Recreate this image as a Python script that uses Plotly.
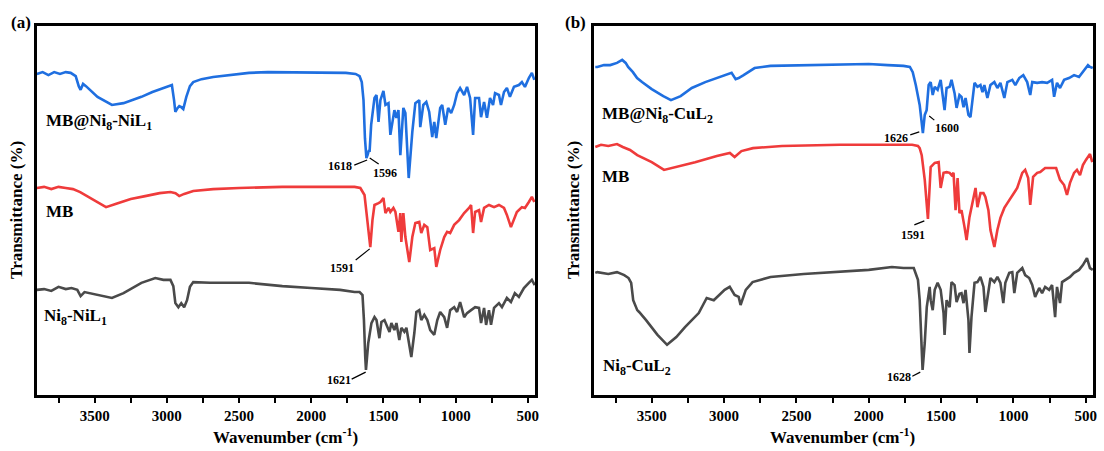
import plotly.graph_objects as go

# ---------------- data (wavenumber cm-1, transmittance a.u. offset-stacked) ----------------
a_blue_wn = [3900, 3860, 3820, 3780, 3740, 3700, 3666, 3631, 3610, 3597, 3580, 3560, 3480, 3420, 3380, 3300, 3240, 3176, 3100, 3060,
             3024, 2990, 2965, 2950, 2941, 2925, 2914, 2900, 2886, 2865, 2840, 2817, 2760, 2679, 2560, 2431, 2300, 2100, 1900, 1760,
             1693, 1665, 1650, 1638, 1628, 1618, 1610, 1600, 1596, 1585, 1562, 1548, 1534, 1521, 1500, 1486, 1465, 1452, 1424, 1410,
             1396, 1383, 1362, 1348, 1325, 1300, 1279, 1252, 1245, 1224, 1203, 1183, 1162, 1148, 1134, 1107, 1093, 1072, 1052, 1031,
             1010, 990, 969, 941, 921, 900, 879, 865, 838, 824, 803, 783, 762, 741, 727, 700, 686, 665, 645, 624,
             596, 562, 541, 520, 493, 472, 455]
a_blue_t = [87.0, 87.5, 86.7, 87.5, 87.0, 87.5, 87.3, 86.4, 83.7, 82.7, 84.3, 83.7, 80.8, 79.4, 78.6, 79.1, 79.9, 80.8, 82.1, 82.7,
            83.2, 83.7, 84.0, 79.9, 76.7, 77.8, 78.3, 78.0, 77.5, 80.8, 83.7, 84.8, 85.6, 86.2, 86.7, 87.3, 87.5, 87.5, 87.5, 87.3,
            87.0, 86.4, 84.8, 79.9, 69.6, 64.2, 65.0, 66.4, 65.9, 73.2, 80.5, 81.3, 74.0, 79.9, 82.4, 78.6, 79.1, 70.5, 77.2, 75.1,
            77.2, 65.0, 77.8, 76.4, 58.8, 71.3, 79.1, 79.9, 72.6, 78.6, 79.4, 76.7, 69.9, 74.0, 69.6, 77.8, 78.6, 73.2, 77.8, 76.4,
            78.6, 81.8, 83.2, 81.3, 83.5, 80.5, 70.5, 80.5, 80.5, 75.3, 79.4, 75.1, 80.5, 78.6, 81.8, 81.3, 78.6, 82.1, 83.2, 80.8,
            83.5, 84.0, 84.8, 83.5, 85.9, 87.3, 85.4]

a_red_wn = [3900, 3850, 3800, 3750, 3700, 3650, 3600, 3520, 3421, 3350, 3250, 3150, 3050, 2975, 2940, 2914, 2880, 2817, 2679, 2500,
            2200, 1900, 1700, 1660, 1631, 1617, 1600, 1591, 1576, 1562, 1534, 1521, 1500, 1486, 1465, 1452, 1431, 1417, 1396, 1383,
            1376, 1362, 1348, 1321, 1300, 1279, 1252, 1238, 1217, 1196, 1176, 1148, 1134, 1107, 1079, 1059, 1038, 1010, 976, 941,
            907, 893, 879, 865, 838, 824, 803, 769, 734, 700, 665, 645, 617, 596, 576, 541, 520, 493, 472, 455]
a_red_t = [56.1, 56.4, 55.8, 56.4, 56.1, 55.8, 55.0, 53.1, 50.9, 51.8, 53.1, 53.9, 54.7, 55.0, 54.7, 53.9, 54.5, 55.3, 55.8, 56.1,
           56.4, 56.4, 56.4, 56.1, 54.2, 49.3, 42.8, 40.1, 47.4, 51.5, 52.0, 52.3, 53.4, 49.3, 50.7, 49.6, 50.7, 49.6, 44.2, 49.3,
           41.5, 49.3, 42.8, 36.0, 42.8, 46.6, 46.9, 43.9, 46.1, 45.5, 39.3, 39.8, 34.7, 39.3, 42.8, 44.2, 43.9, 46.1, 47.4, 49.3,
           50.7, 51.5, 43.9, 49.6, 50.1, 46.9, 50.7, 51.5, 50.9, 51.5, 50.7, 48.8, 45.5, 47.4, 49.6, 50.9, 50.7, 52.3, 53.7, 52.3]

a_black_wn = [3900, 3850, 3800, 3750, 3700, 3660, 3620, 3597, 3570, 3480, 3380, 3300, 3176, 3080, 3024, 2975, 2955, 2941, 2920, 2900,
              2880, 2860, 2840, 2817, 2700, 2431, 2200, 2000, 1800, 1700, 1665, 1645, 1635, 1626, 1621, 1605, 1583, 1562, 1548, 1528,
              1514, 1493, 1479, 1458, 1445, 1424, 1410, 1390, 1376, 1355, 1341, 1321, 1307, 1286, 1272, 1252, 1238, 1217, 1196, 1176,
              1148, 1127, 1107, 1079, 1059, 1038, 1010, 990, 969, 941, 921, 893, 865, 838, 824, 803, 789, 769, 755, 734,
              700, 679, 645, 617, 590, 562, 527, 493, 472, 452]
a_black_t = [28.5, 28.7, 28.2, 29.3, 28.7, 29.0, 28.5, 26.8, 27.9, 27.1, 26.3, 27.6, 30.4, 31.7, 31.2, 31.2, 29.5, 24.9, 23.8, 24.9,
             23.8, 25.7, 29.3, 30.6, 30.4, 30.4, 29.5, 29.0, 28.5, 27.9, 27.9, 27.1, 20.3, 10.3, 6.8, 14.1, 19.5, 21.1, 20.3, 15.4,
             19.8, 20.3, 19.0, 17.1, 19.5, 17.6, 19.5, 14.9, 18.2, 17.1, 18.2, 13.0, 10.3, 16.8, 22.5, 23.0, 20.3, 21.7, 20.3, 17.6,
             16.3, 20.3, 22.5, 21.1, 18.2, 23.0, 23.8, 22.5, 25.2, 21.1, 22.2, 23.0, 23.8, 23.6, 19.5, 23.6, 19.0, 23.0, 19.0, 23.6,
             24.9, 23.8, 26.3, 25.2, 27.6, 26.6, 29.0, 30.4, 31.2, 29.8]

b_blue_wn = [3890, 3876, 3830, 3787, 3740, 3704, 3680, 3663, 3630, 3601, 3567, 3500, 3420, 3367, 3300, 3223, 3130, 3051, 2996, 2948,
             2920, 2899, 2865, 2789, 2679, 2450, 2232, 2000, 1868, 1760, 1716, 1696, 1675, 1648, 1626, 1613, 1600, 1586, 1572, 1558,
             1544, 1524, 1503, 1489, 1476, 1462, 1441, 1428, 1407, 1393, 1373, 1359, 1345, 1331, 1311, 1297, 1283, 1269, 1249, 1228,
             1214, 1201, 1180, 1159, 1132, 1111, 1090, 1063, 1042, 1008, 987, 960, 932, 905, 884, 870, 836, 802, 767, 733,
             719, 699, 678, 650, 616, 581, 547, 513, 485, 471, 452]
b_blue_t = [88.9, 88.9, 89.4, 89.4, 90.0, 90.8, 90.0, 88.9, 87.5, 85.9, 84.8, 82.9, 81.0, 79.9, 81.0, 83.2, 84.8, 85.9, 86.7, 87.3,
            85.6, 85.9, 86.7, 88.6, 89.2, 89.4, 89.7, 89.7, 89.4, 89.2, 88.9, 87.5, 84.0, 78.6, 71.0, 75.9, 77.2, 84.0, 84.8, 81.3,
            83.5, 82.7, 85.4, 81.8, 77.2, 83.2, 83.5, 85.4, 81.8, 77.8, 81.3, 80.8, 78.0, 80.5, 75.9, 75.3, 80.5, 84.6, 83.5, 84.0,
            82.1, 84.0, 80.5, 84.0, 84.8, 83.2, 84.6, 80.5, 84.8, 85.4, 84.0, 85.9, 86.7, 84.8, 81.3, 84.8, 84.6, 84.8, 84.6, 85.4,
            80.8, 84.6, 83.2, 85.4, 85.9, 86.7, 86.2, 88.1, 89.4, 88.9, 88.6]

b_red_wn = [3890, 3850, 3800, 3740, 3700, 3650, 3600, 3500, 3415, 3300, 3200, 3050, 2960, 2927, 2880, 2800, 2600, 2200, 1800, 1700,
            1660, 1648, 1634, 1613, 1591, 1579, 1572, 1544, 1517, 1503, 1483, 1462, 1441, 1428, 1414, 1400, 1386, 1373, 1359, 1338,
            1324, 1304, 1283, 1262, 1249, 1228, 1207, 1194, 1173, 1159, 1132, 1111, 1090, 1063, 1042, 1008, 974, 939, 919, 898,
            884, 864, 836, 815, 781, 747, 705, 678, 650, 630, 609, 581, 561, 540, 520, 499, 471, 455]
b_red_t = [67.2, 67.8, 67.5, 68.0, 67.2, 66.4, 65.0, 63.1, 61.0, 62.1, 63.1, 64.8, 65.6, 64.5, 66.1, 66.9, 67.5, 67.8, 67.8, 67.8,
           67.5, 66.9, 65.0, 58.3, 47.7, 55.6, 61.8, 62.9, 63.1, 56.1, 60.2, 60.4, 60.2, 59.6, 60.2, 50.1, 58.8, 49.3, 50.1, 45.5,
           42.0, 48.2, 52.0, 56.1, 50.9, 54.7, 54.7, 53.7, 50.1, 44.7, 40.1, 44.7, 48.0, 50.7, 52.0, 54.2, 56.1, 60.2, 61.0, 58.8,
           51.5, 59.1, 60.2, 60.4, 61.5, 61.5, 61.5, 58.3, 56.9, 54.2, 57.5, 60.2, 61.0, 59.6, 62.3, 63.7, 65.3, 63.1]

b_black_wn = [3890, 3876, 3800, 3740, 3690, 3660, 3642, 3628, 3600, 3587, 3539, 3460, 3394, 3330, 3270, 3175, 3120, 3071, 2996, 2961,
              2927, 2899, 2886, 2850, 2803, 2679, 2450, 2232, 2000, 1840, 1760, 1689, 1660, 1648, 1640, 1628, 1613, 1599, 1579, 1572,
              1558, 1544, 1524, 1503, 1483, 1476, 1462, 1441, 1428, 1407, 1393, 1373, 1359, 1345, 1331, 1311, 1304, 1290, 1269, 1249,
              1228, 1207, 1194, 1173, 1159, 1132, 1111, 1090, 1070, 1056, 1029, 1008, 994, 974, 939, 919, 891, 870, 850, 822,
              802, 781, 753, 733, 712, 699, 678, 664, 643, 609, 581, 547, 520, 492, 471, 452]
b_black_t = [33.1, 33.3, 32.8, 33.3, 32.5, 31.7, 30.4, 25.7, 23.0, 22.5, 20.3, 16.3, 13.6, 15.7, 18.4, 22.2, 26.3, 25.7, 28.5, 29.3,
             27.1, 26.6, 24.4, 28.5, 30.6, 32.0, 32.8, 33.3, 33.9, 34.7, 34.4, 34.4, 31.2, 25.7, 15.7, 6.8, 14.1, 23.8, 29.3, 25.7,
             23.0, 28.5, 30.4, 28.5, 22.2, 16.3, 25.7, 23.8, 30.6, 29.8, 25.2, 27.4, 27.6, 24.9, 28.5, 20.3, 11.4, 21.1, 30.4, 30.6,
             32.0, 29.3, 22.5, 28.5, 31.7, 30.6, 32.0, 30.4, 24.9, 30.4, 33.1, 33.3, 27.6, 33.1, 34.4, 32.5, 31.7, 29.8, 26.6, 29.0,
             27.6, 29.3, 28.5, 29.8, 21.1, 29.3, 24.9, 30.6, 31.2, 32.0, 33.1, 33.9, 35.2, 37.1, 34.4, 33.9]

series_names = ["MB@Ni8-NiL1", "MB", "Ni8-NiL1", "MB@Ni8-CuL2", "MB", "Ni8-CuL2"]
tick_vals = [3750, 3500, 3250, 3000, 2750, 2500, 2250, 2000, 1750, 1500, 1250, 1000, 750, 500]
tick_text = ["", "3500", "", "3000", "", "2500", "", "2000", "", "1500", "", "1000", "", "500"]

# peak labels: (panel, text, text_wn, text_t, line_wn0, line_t0, line_wn1, line_t1)
peak_labels = [
    ("a", "1618", 1802, 62.1, 1702, 62.3, 1613, 63.7),
    ("a", "1596", 1492, 60.2, 1595, 64.2, 1533, 62.6),
    ("a", "1591", 1789, 34.4, 1692, 36.6, 1595, 39.6),
    ("a", "1621", 1809, 4.1, 1720, 4.3, 1623, 6.2),
    ("b", "1626", 1809, 69.6, 1713, 70.5, 1651, 71.3),
    ("b", "1600", 1457, 72.4, 1582, 75.6, 1547, 74.5),
    ("b", "1591", 1692, 43.4, 1685, 46.1, 1616, 47.2),
    ("b", "1628", 1789, 4.9, 1699, 5.1, 1644, 6.2),
]

# ---------------- figure ----------------
W, H = 1104, 451
FONT = "Liberation Serif, Times New Roman, serif"
BLUE, RED, GREY = "#1f6fe0", "#ef3b3b", "#4a4a4a"

fig = go.Figure()
curves = [
    (a_blue_wn, a_blue_t, BLUE, "x", "y", series_names[0]),
    (a_red_wn, a_red_t, RED, "x", "y", series_names[1]),
    (a_black_wn, a_black_t, GREY, "x", "y", series_names[2]),
    (b_blue_wn, b_blue_t, BLUE, "x2", "y2", series_names[3]),
    (b_red_wn, b_red_t, RED, "x2", "y2", series_names[4]),
    (b_black_wn, b_black_t, GREY, "x2", "y2", series_names[5]),
]
for wn, t, col, xa, ya, nm in curves:
    fig.add_trace(go.Scatter(x=wn, y=t, mode="lines", name=nm, xaxis=xa, yaxis=ya,
                             line=dict(color=col, width=2.6), showlegend=False))

def px_x(p):
    return p / W

def px_y(p):
    return (H - p) / H

xdom_a = [px_x(37), px_x(537)]
xdom_b = [px_x(596), px_x(1097)]
ydom = [px_y(395), px_y(26)]

xcommon = dict(range=[3900, 450], showline=True, linewidth=2.5, linecolor="black", mirror=True,
               ticks="outside", ticklen=5, tickwidth=2, tickcolor="black",
               tickvals=tick_vals, ticktext=tick_text, showgrid=False, zeroline=False,
               tickfont=dict(family=FONT, size=15, color="black", weight="bold"))
ycommon = dict(range=[0, 100], showline=True, linewidth=2.5, linecolor="black", mirror=True,
               ticks="", showticklabels=False, showgrid=False, zeroline=False)

fig.update_layout(
    width=W, height=H, margin=dict(l=0, r=0, t=0, b=0),
    paper_bgcolor="white", plot_bgcolor="white",
    xaxis=dict(domain=xdom_a, anchor="y", **xcommon),
    yaxis=dict(domain=ydom, anchor="x", **ycommon),
    xaxis2=dict(domain=xdom_b, anchor="y2", **xcommon),
    yaxis2=dict(domain=ydom, anchor="x2", **ycommon),
)

bold = dict(family=FONT, color="black", weight="bold")
ann = []

def paper_text(txt, cx, cy, size, xanchor="center", angle=0):
    return dict(text=txt, x=px_x(cx), y=px_y(cy), xref="paper", yref="paper", showarrow=False,
                xanchor=xanchor, yanchor="middle", textangle=angle, font=dict(size=size, **bold))

# panel letters
ann.append(paper_text("(a)", 21, 22, 17))
ann.append(paper_text("(b)", 578, 22, 17))
# axis titles
for cx in (287, 846):
    ann.append(paper_text("Wavenumber (cm<sup>-1</sup>)", cx, 436, 17))
for cx in (17, 576):
    ann.append(paper_text("Transmittance (%)", cx, 210, 17, angle=-90))
# curve labels
curve_labels = [
    ("MB@Ni<sub>8</sub>-NiL<sub>1</sub>", 44, 122),
    ("MB", 44, 211),
    ("Ni<sub>8</sub>-NiL<sub>1</sub>", 42, 317),
    ("MB@Ni<sub>8</sub>-CuL<sub>2</sub>", 602, 115),
    ("MB", 602, 176),
    ("Ni<sub>8</sub>-CuL<sub>2</sub>", 603, 367),
]
for txt, lx, ly in curve_labels:
    ann.append(paper_text(txt, lx, ly, 17, xanchor="left"))
# peak labels and leader lines
for panel, txt, tx, ty, x0, y0, x1, y1 in peak_labels:
    xr, yr = ("x", "y") if panel == "a" else ("x2", "y2")
    ann.append(dict(text=txt, x=tx, y=ty, xref=xr, yref=yr, showarrow=False,
                    xanchor="center", yanchor="middle", font=dict(size=12, **bold)))
    fig.add_shape(type="line", x0=x0, y0=y0, x1=x1, y1=y1, xref=xr, yref=yr,
                  line=dict(color="black", width=1.2))

fig.update_layout(annotations=ann)
fig.write_html("out.html")
